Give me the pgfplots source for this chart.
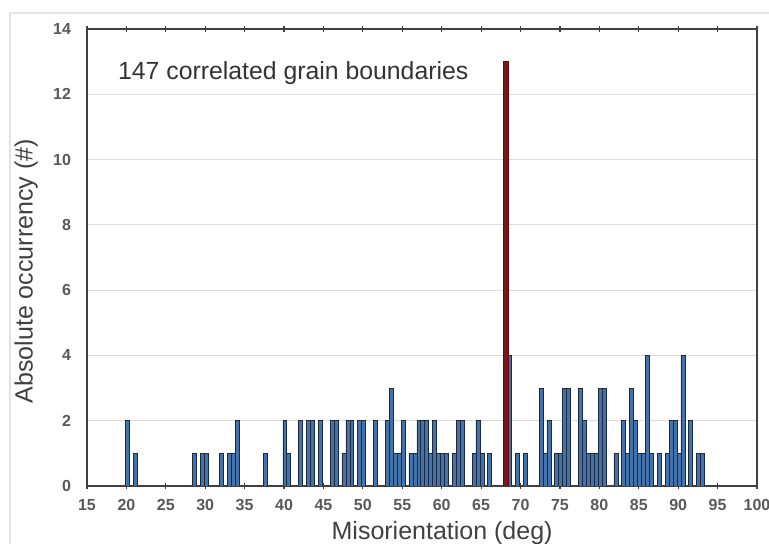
\documentclass[border=0pt]{standalone}
\usepackage{fontspec}
\setmainfont{Liberation Sans}
\usepackage{pgfplots}
\pgfplotsset{compat=1.18}

\definecolor{barblue}{RGB}{68,114,170}
\definecolor{baredge}{RGB}{28,42,64}
\definecolor{peakred}{RGB}{125,22,26}
\definecolor{labgray}{RGB}{64,64,64}
\definecolor{tickgray}{RGB}{89,89,89}

\begin{document}
\begin{tikzpicture}
\path[use as bounding box] (0,0) rectangle (384.5pt,272pt);
\draw[gray!22, line width=0.6pt] (5pt,0pt) -- (5pt,265.5pt) -- (384.5pt,265.5pt);
\begin{axis}[
    at={(43.5pt,29pt)}, anchor=south west,
    scale only axis,
    width=335pt, height=228.5pt,
    xmin=15, xmax=100, ymin=0, ymax=14,
    xtick={15,20,...,100},
    ytick={0,2,...,14},
    ymajorgrids,
    major grid style={gray!28, line width=0.5pt},
    axis line style={labgray, line width=0.7pt},
    ytick style={draw=none},
    xtick style={labgray, line width=0.6pt},
    tick align=center,
    major tick length=3pt,
    /pgf/number format/assume math mode=true,
    ticklabel style={font=\bfseries\fontsize{8}{9}\selectfont, text=tickgray},
    yticklabel style={xshift=-3pt},
    xticklabel style={yshift=-1.5pt},
    xlabel={Misorientation (deg)},
    ylabel={Absolute occurrency (\#)},
    label style={font=\fontsize{12.5}{14}\selectfont, text=labgray},
    xlabel style={at={(axis description cs:0.53,0)}, anchor=north, yshift=-14pt},
    ylabel style={at={(axis description cs:-0.063,0.47)}, anchor=south},
]
\addplot[ybar, bar width=0.5, bar shift=0pt, fill=barblue, draw=baredge, line width=0.35pt]
coordinates {
    (20.1,2) (21.1,1) (28.6,1) (29.6,1) (30.1,1) (32.1,1) (33.1,1) (33.6,1)
    (34.1,2) (37.6,1)
    (40.1,2) (40.6,1) (42.1,2) (43.1,2) (43.6,2) (44.6,2) (46.1,2) (46.6,2)
    (47.6,1) (48.1,2) (48.6,2) (49.6,2) (50.1,2) (51.6,2)
    (53.1,2) (53.6,3) (54.1,1) (54.6,1) (55.1,2) (56.1,1) (56.6,1) (57.1,2)
    (57.6,2) (58.1,2) (58.6,1) (59.1,2) (59.6,1) (60.1,1) (60.6,1) (61.6,1)
    (62.1,2) (62.6,2) (64.1,1) (64.6,2) (65.1,1) (66.1,1)
    (68.6,4) (69.6,1) (70.6,1)
    (72.6,3) (73.1,1) (73.6,2) (74.6,1) (75.1,1) (75.6,3) (76.1,3) (77.6,3)
    (78.1,2) (78.6,1) (79.1,1) (79.6,1) (80.1,3) (80.6,3)
    (82.1,1) (83.1,2) (83.6,1) (84.1,3) (84.6,2) (85.1,1) (85.6,1) (86.1,4)
    (86.6,1) (87.6,1) (88.6,1) (89.1,2) (89.6,2) (90.1,1) (90.6,4) (91.6,2)
    (92.6,1) (93.1,1)
};
\addplot[ybar, bar width=0.6, bar shift=0pt, fill=peakred, draw=peakred!70!black, line width=0.3pt]
coordinates {(68.1,13)};
\node[anchor=west, inner sep=0pt, font=\fontsize{12.4}{14}\selectfont, text=black!80]
    at (axis cs:18.9,12.65) {147 correlated grain boundaries};
\end{axis}
\end{tikzpicture}
\end{document}
